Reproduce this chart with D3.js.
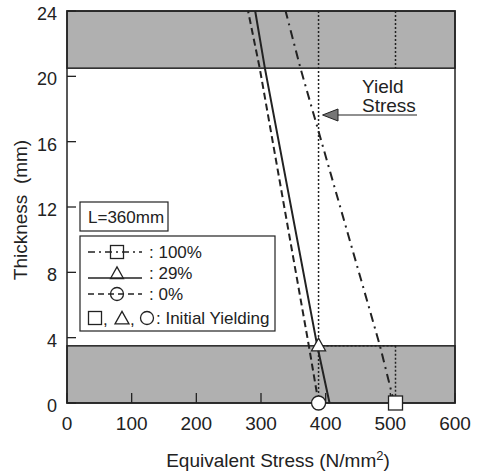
<!DOCTYPE html>
<html>
<head>
<meta charset="utf-8">
<script src="https://cdn.jsdelivr.net/npm/d3@7"></script>
<style>
  html, body { margin: 0; padding: 0; background: #fff; }
  svg { display: block; font-family: "Liberation Sans", Arial, sans-serif; }
</style>
</head>
<body>
<svg id="chart" width="480" height="472"></svg>
<script>
// ---- data ----
const xTicks = [0, 100, 200, 300, 400, 500, 600];
const yTicks = [0, 4, 8, 12, 16, 20, 24];
const thicknessPts = [0, 3.5, 20.5, 24];
const stress100 = [506, 484, 361, 338];
const stress29 = [406, 387, 306, 291];
const stress0 = [389, 374, 298, 280];
const bands = [[0, 3.5], [20.5, 24]];
const yieldStress = 389;
const initialYield = [
  { type: "square", s: 508, t: 0 },
  { type: "triangle", s: 389, t: 3.5 },
  { type: "circle", s: 389, t: 0 }
];
// dotted guide segments for 100% initial yielding: [s1, t1, s2, t2]
const guide100 = [
  [508, 24, 508, 20.5],
  [389, 3.5, 508, 3.5],
  [508, 3.5, 508, 0]
];
const legendItems = [
  { label: ": 100%", dash: "7,4,2,4", sym: "square" },
  { label: ": 29%", dash: null, sym: "triangle" },
  { label: ": 0%", dash: "6,4", sym: "circle" }
];

// ---- layout ----
const svg = d3.select("#chart");
const L = 67, T = 11, W = 388, H = 392;
const x = d3.scaleLinear().domain([0, 600]).range([L, L + W]);
const y = d3.scaleLinear().domain([0, 24]).range([T + H, T]);
const ink = "#222";

// bands
svg.selectAll("rect.band").data(bands).enter().append("rect")
  .attr("class", "band")
  .attr("x", x(0)).attr("width", W)
  .attr("y", d => y(d[1])).attr("height", d => y(d[0]) - y(d[1]))
  .attr("fill", "#b0b0b0").attr("stroke", ink).attr("stroke-width", 1.5);

// ticks (inward)
svg.selectAll("line.xt").data(xTicks).enter().append("line")
  .attr("class", "xt")
  .attr("x1", d => x(d)).attr("x2", d => x(d))
  .attr("y1", y(0)).attr("y2", y(0) - 10)
  .attr("stroke", ink).attr("stroke-width", 1.3);
svg.selectAll("line.yt").data(yTicks).enter().append("line")
  .attr("class", "yt")
  .attr("x1", x(0)).attr("x2", x(0) + 9)
  .attr("y1", d => y(d)).attr("y2", d => y(d))
  .attr("stroke", ink).attr("stroke-width", 1.3);

// tick labels
svg.selectAll("text.xl").data(xTicks).enter().append("text")
  .attr("class", "xl")
  .attr("x", d => x(d)).attr("y", 430)
  .attr("text-anchor", "middle").attr("font-size", 19).attr("fill", ink)
  .text(d => d);
svg.selectAll("text.yl").data(yTicks).enter().append("text")
  .attr("class", "yl")
  .attr("x", 57).attr("y", d => y(d) + 9)
  .attr("text-anchor", "end").attr("font-size", 18).attr("fill", ink)
  .text(d => d);

// axis titles
svg.append("text").attr("x", 278).attr("y", 467)
  .attr("text-anchor", "middle").attr("font-size", 19).attr("fill", ink)
  .html('Equivalent Stress (N/mm<tspan dy="-7" font-size="13">2</tspan><tspan dy="7">)</tspan>');
svg.append("text").attr("transform", "translate(27,210) rotate(-90)")
  .attr("text-anchor", "middle").attr("font-size", 19).attr("fill", ink)
  .text("Thickness\u00a0\u00a0(mm)");

// dotted yield line
svg.append("line")
  .attr("x1", x(yieldStress)).attr("x2", x(yieldStress))
  .attr("y1", y(24)).attr("y2", y(0))
  .attr("stroke", ink).attr("stroke-width", 1.5).attr("stroke-dasharray", "2,2");
// dotted guides
svg.selectAll("line.guide").data(guide100).enter().append("line")
  .attr("class", "guide")
  .attr("x1", d => x(d[0])).attr("y1", d => y(d[1]))
  .attr("x2", d => x(d[2])).attr("y2", d => y(d[3]))
  .attr("stroke", ink).attr("stroke-width", 1.5).attr("stroke-dasharray", "2,2");

// series lines
const series = [
  { vals: stress100, dash: "9,5,2,5", w: 2 },
  { vals: stress29, dash: null, w: 2 },
  { vals: stress0, dash: "7,4", w: 2 }
];
const sLine = d3.line().x(d => x(d[0])).y(d => y(d[1]));
series.forEach(s => {
  svg.append("path")
    .attr("d", sLine(s.vals.map((v, i) => [v, thicknessPts[i]])))
    .attr("fill", "none").attr("stroke", ink).attr("stroke-width", s.w)
    .attr("stroke-dasharray", s.dash);
});

// frame
svg.append("rect").attr("x", L).attr("y", T).attr("width", W).attr("height", H)
  .attr("fill", "none").attr("stroke", ink).attr("stroke-width", 1.5);

// symbols
function drawSym(g, type, cx, cy, size, fill) {
  const h = size / 2;
  if (type === "square") {
    g.append("rect").attr("x", cx - h).attr("y", cy - h).attr("width", size).attr("height", size)
      .attr("fill", fill).attr("stroke", ink).attr("stroke-width", 1.3);
  } else if (type === "circle") {
    g.append("circle").attr("cx", cx).attr("cy", cy).attr("r", h)
      .attr("fill", fill).attr("stroke", ink).attr("stroke-width", 1.3);
  } else {
    g.append("path").attr("d", `M${cx - h},${cy + h * 0.85}L${cx + h},${cy + h * 0.85}L${cx},${cy - h * 0.95}Z`)
      .attr("fill", fill).attr("stroke", ink).attr("stroke-width", 1.3);
  }
}
initialYield.forEach(p => {
  const cy = p.type === "triangle" ? y(p.t) - 1 : y(p.t);
  drawSym(svg, p.type, x(p.s), cy, 14, "#fff");
});

// yield stress annotation
const ay = 115;
svg.append("line").attr("x1", 338).attr("x2", 417).attr("y1", ay).attr("y2", ay)
  .attr("stroke", ink).attr("stroke-width", 1.2);
svg.append("path").attr("d", `M${x(yieldStress) + 4},${ay}L338,${ay - 6}L338,${ay + 6}Z`)
  .attr("fill", "#777").attr("stroke", ink).attr("stroke-width", 1);
svg.append("text").attr("x", 362).attr("y", 93).attr("font-size", 19).attr("fill", ink).text("Yield");
svg.append("text").attr("x", 362).attr("y", 112).attr("font-size", 19).attr("fill", ink).text("Stress");

// legend: L=360mm
svg.append("rect").attr("x", 80).attr("y", 202).attr("width", 88).attr("height", 29)
  .attr("fill", "#fff").attr("stroke", ink).attr("stroke-width", 1.2);
svg.append("text").attr("x", 88).attr("y", 223).attr("font-size", 17).attr("fill", ink).text("L=360mm");

// legend box
const lg = svg.append("g");
lg.append("rect").attr("x", 80).attr("y", 236).attr("width", 195).attr("height", 95)
  .attr("fill", "#fff").attr("stroke", ink).attr("stroke-width", 1.2);
const rowY = [252, 273, 294];
legendItems.forEach((it, i) => {
  const cy = rowY[i];
  const ly = it.sym === "triangle" ? cy + 5 : cy;
  lg.append("line").attr("x1", 88).attr("x2", 142).attr("y1", ly).attr("y2", ly)
    .attr("stroke", ink).attr("stroke-width", 1.5).attr("stroke-dasharray", it.dash);
  drawSym(lg, it.sym, 117, cy, 13, "none");
  lg.append("text").attr("x", 149).attr("y", cy + 6).attr("font-size", 17).attr("fill", ink).text(it.label);
});
const iy = 318;
drawSym(lg, "square", 95, iy, 13, "none");
lg.append("text").attr("x", 103).attr("y", iy + 7).attr("font-size", 17).attr("fill", ink).text(",");
drawSym(lg, "triangle", 122, iy, 14, "none");
lg.append("text").attr("x", 130).attr("y", iy + 7).attr("font-size", 17).attr("fill", ink).text(",");
drawSym(lg, "circle", 147, iy, 13, "none");
lg.append("text").attr("x", 156).attr("y", iy + 6).attr("font-size", 17).attr("fill", ink).text(": Initial Yielding");
</script>
</body>
</html>
